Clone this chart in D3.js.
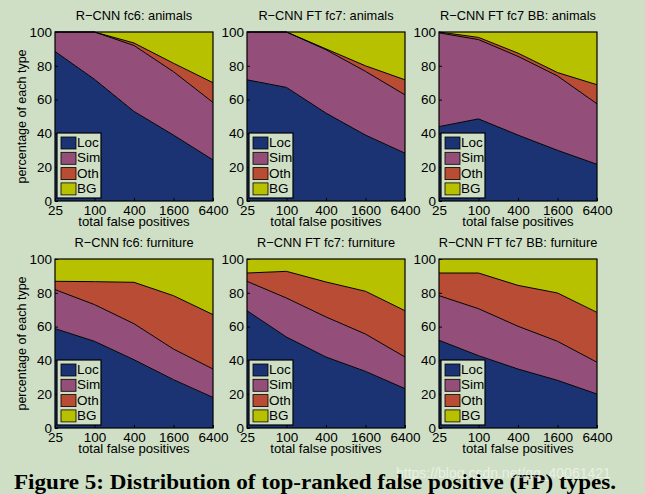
<!DOCTYPE html>
<html><head><meta charset="utf-8">
<script src="https://cdn.jsdelivr.net/npm/d3@7"></script>
<style>
html,body{margin:0;padding:0;background:#cfdfc5;}
svg{display:block;}
</style></head>
<body>
<svg id="chart" width="645" height="494"></svg>
<script>
const xTicks = [25, 100, 400, 1600, 6400];
const yTicks = [0, 20, 40, 60, 80, 100];
const types = ["Loc", "Sim", "Oth", "BG"];
const typeColors = ["#1b3372", "#934f7a", "#b94c34", "#b8c100"];
const titles = [
  "R\u2212CNN fc6: animals", "R\u2212CNN FT fc7: animals", "R\u2212CNN FT fc7 BB: animals",
  "R\u2212CNN fc6: furniture", "R\u2212CNN FT fc7: furniture", "R\u2212CNN FT fc7 BB: furniture"
];
// percentage of each FP type at 25,100,400,1600,6400 false positives, per panel
const locValues = [
  [88.5, 72, 53, 39, 24.3],
  [71.7, 67.2, 52, 39, 28.3],
  [44, 48.6, 39, 30, 21.7],
  [58.8, 51.3, 40.4, 28.6, 18.1],
  [69.4, 53.8, 42, 33.5, 23.3],
  [51.9, 42.8, 34.9, 28.2, 20.1]
];
const simValues = [
  [11.5, 28, 39, 37.5, 34],
  [28.3, 32.8, 37.5, 37.7, 34.5],
  [55.5, 46.9, 46.6, 44, 35.8],
  [23.1, 21.7, 21.3, 18.1, 16.8],
  [17.4, 23.1, 23.7, 22.1, 18.7],
  [26.4, 27.8, 25.3, 23.1, 18.8]
];
const othValues = [
  [0, 0, 1.5, 5, 11.7],
  [0, 0, 0.5, 3.3, 8.9],
  [0.5, 1.3, 1.9, 2, 11.3],
  [4.9, 13.6, 24.5, 31.6, 32.2],
  [4.9, 15.8, 20.7, 25.3, 27.4],
  [13.4, 21.1, 24.2, 28.6, 29.5]
];
const bgValues = [
  [0, 0, 6.5, 18.5, 30],
  [0, 0, 10, 20, 28.3],
  [0, 3.2, 12.5, 24, 31.2],
  [13.2, 13.4, 13.8, 21.7, 32.9],
  [8.3, 7.3, 13.6, 19.1, 30.6],
  [8.3, 8.3, 15.6, 20.1, 31.6]
];
const caption = "Figure 5: Distribution of top-ranked false positive (FP) types.";
const watermark = "https://blog.csdn.net/qq_40061421";

const svg = d3.select("#chart");
const colX = [55, 247, 439];
const rowY = [32, 259];
const pw = 158, ph = 169;
const font = "'Liberation Sans', Arial, sans-serif";

titles.forEach((title, i) => {
  const col = i % 3, row = Math.floor(i / 3);
  const g = svg.append("g").attr("transform", `translate(${colX[col]},${rowY[row]})`);
  const x = d3.scaleLog().base(2).domain([25, 6400]).range([0, pw]);
  const y = d3.scaleLinear().domain([0, 100]).range([ph, 0]);
  const rows = xTicks.map((t, j) => ({
    fp: t, Loc: locValues[i][j], Sim: simValues[i][j], Oth: othValues[i][j], BG: bgValues[i][j]
  }));
  const series = d3.stack().keys(types)(rows);
  const area = d3.area().x(d => x(d.data.fp)).y0(d => y(Math.min(100, d[0]))).y1(d => y(Math.min(100, d[1])));
  const line = d3.line().x(d => x(d.data.fp)).y(d => y(Math.min(100, d[1])));
  g.selectAll("path.a").data(series).join("path")
    .attr("fill", (d, k) => typeColors[k]).attr("d", area);
  g.selectAll("path.l").data(series.slice(0, 3)).join("path")
    .attr("fill", "none").attr("stroke", "#000").attr("stroke-width", 1).attr("d", line);
  g.append("rect").attr("x", 0).attr("y", 0).attr("width", pw).attr("height", ph)
    .attr("fill", "none").attr("stroke", "#000").attr("stroke-width", 1.2);

  // axes
  const xa = g.append("g").attr("transform", `translate(0,${ph})`)
    .call(d3.axisBottom(x).tickValues(xTicks).tickFormat(d3.format("d")).tickSize(-3).tickPadding(5));
  const ya = g.append("g")
    .call(d3.axisLeft(y).tickValues(yTicks).tickSize(-3).tickPadding(3));
  [xa, ya].forEach(a => {
    a.select(".domain").remove();
    a.selectAll("line").attr("stroke", "#000");
    a.selectAll("text").attr("font-family", font).attr("font-size", 13.5).attr("fill", "#000");
  });
  xa.selectAll("text").attr("dy", "0.71em").attr("y", 4);

  g.append("text").attr("x", pw / 2).attr("y", -15).attr("text-anchor", "middle")
    .attr("dominant-baseline", "middle").attr("font-family", font).attr("font-size", 12.8)
    .text(title);
  g.append("text").attr("x", pw / 2).attr("y", ph + 25).attr("text-anchor", "middle")
    .attr("font-family", font).attr("font-size", 13.2)
    .text("total false positives");
  if (col === 0) {
    g.append("text").attr("transform", `translate(-32,${ph / 2}) rotate(-90)`)
      .attr("text-anchor", "middle").attr("dominant-baseline", "middle")
      .attr("font-family", font).attr("font-size", 12.5).text("percentage of each type");
  }

  // legend
  const lg = g.append("g").attr("transform", `translate(2,${ph - 68})`);
  lg.append("rect").attr("x", 0).attr("y", 0).attr("width", 44).attr("height", 65)
    .attr("fill", "#cfdfc5").attr("stroke", "#000").attr("stroke-width", 1.2);
  types.forEach((t, k) => {
    lg.append("rect").attr("x", 4).attr("y", 4 + k * 15.3).attr("width", 15).attr("height", 12)
      .attr("fill", typeColors[k]).attr("stroke", "#000").attr("stroke-width", 0.8);
    lg.append("text").attr("x", 20).attr("y", 10.5 + k * 15.3).attr("dominant-baseline", "middle")
      .attr("font-family", font).attr("font-size", 13.5).text(t);
  });
});

svg.append("text").attr("x", 14).attr("y", 489).attr("font-family", "'Liberation Serif', 'Times New Roman', serif")
  .attr("font-weight", "bold").attr("font-size", 21).attr("textLength", 602).attr("lengthAdjust", "spacingAndGlyphs")
  .text(caption);
svg.append("text").attr("x", 396).attr("y", 478).attr("font-family", font)
  .attr("font-size", 14).attr("fill", "#ffffff").attr("fill-opacity", 0.55).text(watermark);
</script>
</body></html>
